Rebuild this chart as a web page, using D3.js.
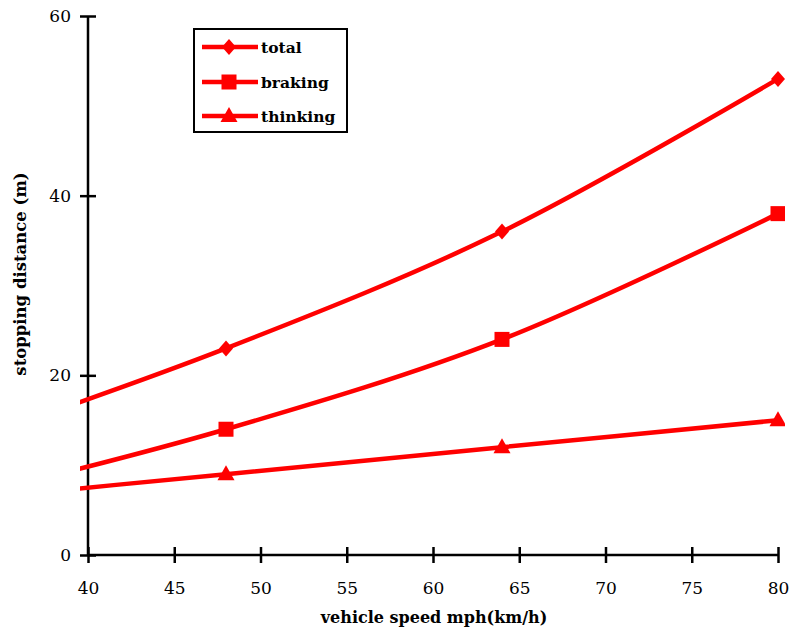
<!DOCTYPE html>
<html>
<head>
<meta charset="utf-8">
<script src="https://cdn.jsdelivr.net/npm/d3@7"></script>
<style>
  body { margin: 0; background: #fff; }
  svg { display: block; }
</style>
</head>
<body>
<svg id="chart" width="792" height="631"></svg>
<script>
// Data (speed in km/h, distances in m)
const speeds = [32, 48, 64, 80];
const thinking = [6, 9, 12, 15];
const braking = [6, 14, 24, 38];
const total = [12, 23, 36, 53];
const seriesNames = ["total", "braking", "thinking"];
const markerShapes = ["diamond", "square", "triangle"];
const xTicks = [40, 45, 50, 55, 60, 65, 70, 75, 80];
const yTicks = [0, 20, 40, 60];

const seriesData = [total, braking, thinking];
const FONT = 'DejaVu Serif';

const svg = d3.select("#chart");
const x = d3.scaleLinear().domain([40, 80]).range([88, 778]);
const y = d3.scaleLinear().domain([0, 60]).range([555, 16]);
const red = "#ff0000";

svg.append("defs").append("clipPath").attr("id", "clip")
  .append("rect").attr("x", 80).attr("y", 0).attr("width", 705).attr("height", 600);

const yAxis = d3.axisLeft(y).tickValues(yTicks).tickSize(8).tickPadding(9);
const gy = svg.append("g").attr("transform", `translate(${x(40)},0)`).call(yAxis);
const xAxis = d3.axisBottom(x).tickValues(xTicks).tickSize(8).tickPadding(19);
const gx = svg.append("g").attr("transform", `translate(0,${y(0)})`).call(xAxis);

[gx, gy].forEach(g => {
  g.attr("font-family", null);
  g.select(".domain").attr("stroke", "#000").attr("stroke-width", 2.5);
  g.selectAll(".tick line").attr("stroke", "#000").attr("stroke-width", 2.5);
  g.selectAll(".tick text").attr("font-size", 17).attr("fill", "#000")
    .style("font-family", FONT);
});
gy.selectAll(".tick line").attr("x1", 8).attr("x2", -8);
gx.selectAll(".tick line").attr("y1", -8).attr("y2", 8);
gy.select(".domain").attr("d", `M0,${y(60)}V${y(0)}`);
gx.select(".domain").attr("d", `M${x(40)},0H${x(80)}`);

svg.append("text").attr("x", 434).attr("y", 623).attr("text-anchor", "middle")
  .style("font-family", FONT)
  .attr("font-size", 16).attr("font-weight", "bold").text("vehicle speed mph(km/h)");
svg.append("text").attr("transform", "translate(26,274) rotate(-90)").attr("text-anchor", "middle")
  .style("font-family", FONT)
  .attr("font-size", 16.5).attr("font-weight", "bold").text("stopping distance (m)");

const line = d3.line().x((d, i) => x(speeds[i])).y(d => y(d)).curve(d3.curveCatmullRom);
const plot = svg.append("g").attr("clip-path", "url(#clip)");

function marker(g, shape, cx, cy) {
  if (shape === "diamond") {
    g.append("path").attr("d", `M${cx},${cy - 8}L${cx + 7},${cy}L${cx},${cy + 8}L${cx - 7},${cy}Z`).attr("fill", red);
  } else if (shape === "square") {
    g.append("rect").attr("x", cx - 7.5).attr("y", cy - 7.5).attr("width", 15).attr("height", 15).attr("fill", red);
  } else {
    g.append("path").attr("d", `M${cx},${cy - 9}L${cx + 8.5},${cy + 6}L${cx - 8.5},${cy + 6}Z`).attr("fill", red);
  }
}

seriesData.forEach((vals, si) => {
  plot.append("path").attr("d", line(vals)).attr("fill", "none")
    .attr("stroke", red).attr("stroke-width", 4.5);
  vals.forEach((v, i) => {
    if (speeds[i] >= 40) marker(plot, markerShapes[si], x(speeds[i]), y(v));
  });
});

const lg = svg.append("g");
lg.append("rect").attr("x", 194).attr("y", 29).attr("width", 153).attr("height", 103)
  .attr("fill", "#fff").attr("stroke", "#000").attr("stroke-width", 2);
const rowY = [47, 82, 116];
seriesNames.forEach((name, i) => {
  lg.append("line").attr("x1", 202).attr("x2", 258).attr("y1", rowY[i]).attr("y2", rowY[i])
    .attr("stroke", red).attr("stroke-width", 4.5);
  marker(lg, markerShapes[i], 229, rowY[i]);
  lg.append("text").attr("x", 261).attr("y", rowY[i] + 6).attr("font-size", 15.5)
    .style("font-family", FONT)
    .attr("font-weight", "bold").text(name);
});
</script>
</body>
</html>
